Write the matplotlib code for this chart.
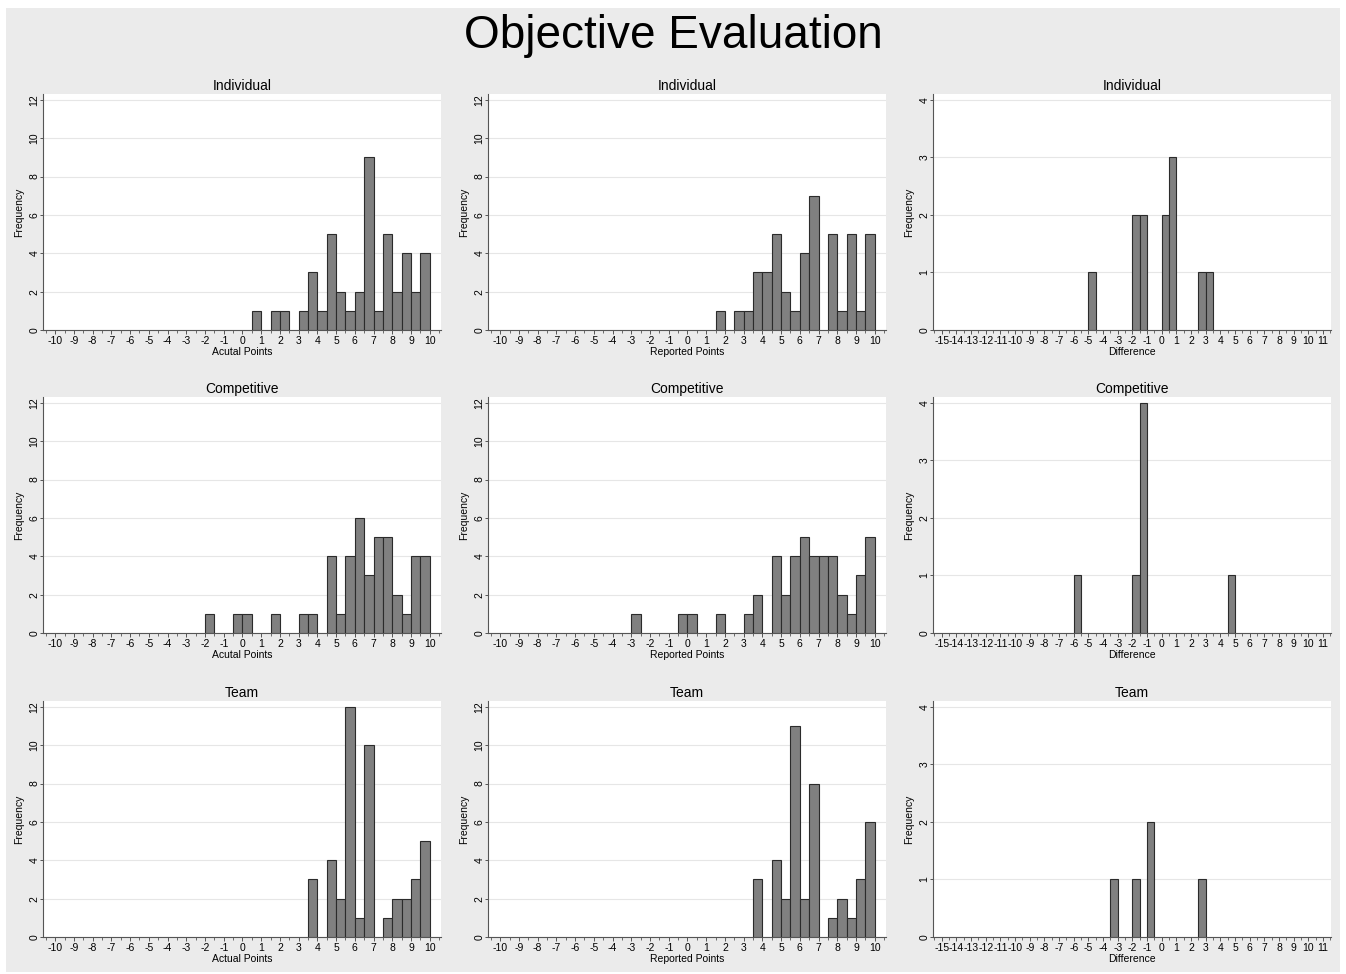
import numpy as np
import matplotlib.pyplot as plt
from matplotlib.patches import Rectangle
from matplotlib.ticker import MultipleLocator

plt.rcParams['font.family'] = ['Liberation Sans', 'DejaVu Sans']
plt.rcParams['axes.unicode_minus'] = False

# histogram counts, bins of width 0.5 starting at the given left edge
bin_width = 0.5

ind_actual_start = 0.5
ind_actual = [1, 0, 1, 1, 0, 1, 3, 1, 5, 2, 1, 2, 9, 1, 5, 2, 4, 2, 4]
ind_reported_start = 0.5
ind_reported = [0, 0, 1, 0, 1, 1, 3, 3, 5, 2, 1, 4, 7, 0, 5, 1, 5, 1, 5]
ind_diff_start = -5.0
ind_diff = [1, 0, 0, 0, 0, 0, 2, 2, 0, 0, 2, 3, 0, 0, 0, 1, 1]

comp_actual_start = -2.0
comp_actual = [1, 0, 0, 1, 1, 0, 0, 1, 0, 0, 1, 1, 0, 4, 1, 4, 6, 3, 5, 5, 2, 1, 4, 4]
comp_reported_start = -3.0
comp_reported = [1, 0, 0, 0, 0, 1, 1, 0, 0, 1, 0, 0, 1, 2, 0, 4, 2, 4, 5, 4, 4, 4, 2, 1, 3, 5]
comp_diff_start = -6.0
comp_diff = [1, 0, 0, 0, 0, 0, 0, 0, 1, 4, 0, 0, 0, 0, 0, 0, 0, 0, 0, 0, 0, 1]

team_actual_start = 3.5
team_actual = [3, 0, 4, 2, 12, 1, 10, 0, 1, 2, 2, 3, 5]
team_reported_start = 3.5
team_reported = [3, 0, 4, 2, 11, 2, 8, 0, 1, 2, 1, 3, 6]
team_diff_start = -3.5
team_diff = [1, 0, 0, 1, 0, 2, 0, 0, 0, 0, 0, 0, 1]

row_titles = ["Individual", "Competitive", "Team"]
points_ticks = list(range(-10, 11))
diff_ticks = list(range(-15, 12))
freq_ticks = [0, 2, 4, 6, 8, 10, 12]
diff_freq_ticks = [0, 1, 2, 3, 4]

panels = [
    [(ind_actual_start, ind_actual, "Acutal Points"),
     (ind_reported_start, ind_reported, "Reported Points"),
     (ind_diff_start, ind_diff, "Difference")],
    [(comp_actual_start, comp_actual, "Acutal Points"),
     (comp_reported_start, comp_reported, "Reported Points"),
     (comp_diff_start, comp_diff, "Difference")],
    [(team_actual_start, team_actual, "Actual Points"),
     (team_reported_start, team_reported, "Reported Points"),
     (team_diff_start, team_diff, "Difference")],
]

W, H = 1346, 974
fig = plt.figure(figsize=(W / 100, H / 100), dpi=100, facecolor='white')
fig.patches.append(Rectangle((6 / W, 1 - 972 / H), 1334 / W, 964 / H,
                             transform=fig.transFigure, facecolor='#ebebeb',
                             edgecolor='none', zorder=-10))

fig.text(0.5, 1 - 36 / H, "Objective Evaluation", ha='center', va='center',
         fontsize=33, color='black')

col_left = [43, 488, 933]
row_top = [94, 397, 701]
pw, ph = 398, 236

for r in range(3):
    for c in range(3):
        start, counts, xlab = panels[r][c]
        ax = fig.add_axes([col_left[c] / W, 1 - (row_top[r] + ph) / H, pw / W, ph / H])
        counts = np.array(counts)
        lefts = start + bin_width * np.arange(len(counts))
        keep = counts > 0
        ax.bar(lefts[keep], counts[keep], width=bin_width, align='edge',
               color='#808080', edgecolor='#2b2b2b', linewidth=0.8, zorder=3)

        if c == 2:
            ax.set_xlim(-15.6, 11.55)
            ax.set_xticks(diff_ticks)
            ax.set_ylim(0, 4.1)
            ax.set_yticks(diff_freq_ticks)
        else:
            ax.set_xlim(-10.65, 10.6)
            ax.set_xticks(points_ticks)
            ax.set_ylim(0, 12.3)
            ax.set_yticks(freq_ticks)
        ax.xaxis.set_minor_locator(MultipleLocator(0.5))

        ax.set_facecolor('white')
        ax.grid(axis='y', color='#e6e6e6', linewidth=0.8, zorder=0)
        for s in ['top', 'right']:
            ax.spines[s].set_visible(False)
        for s in ['left', 'bottom']:
            ax.spines[s].set_color('#555555')
            ax.spines[s].set_linewidth(0.8)
        ax.tick_params(axis='x', which='major', length=3, width=0.7, color='#555555',
                       labelsize=7.5, pad=1.5)
        ax.tick_params(axis='x', which='minor', length=2, width=0.6, color='#555555')
        ax.tick_params(axis='y', length=2, width=0.7, color='#555555', labelsize=7.5, pad=0.5)
        for lab in ax.get_yticklabels():
            lab.set_rotation(90)
            lab.set_va('center')

        ax.set_title(row_titles[r], fontsize=10, pad=3)
        ax.set_xlabel(xlab, fontsize=7.5, labelpad=0.5)
        ax.set_ylabel("Frequency", fontsize=7.5, ha='center', va='center')
        ax.yaxis.set_label_coords(-0.06, 0.5)

fig.savefig("out.png", dpi=100, facecolor=fig.get_facecolor())
